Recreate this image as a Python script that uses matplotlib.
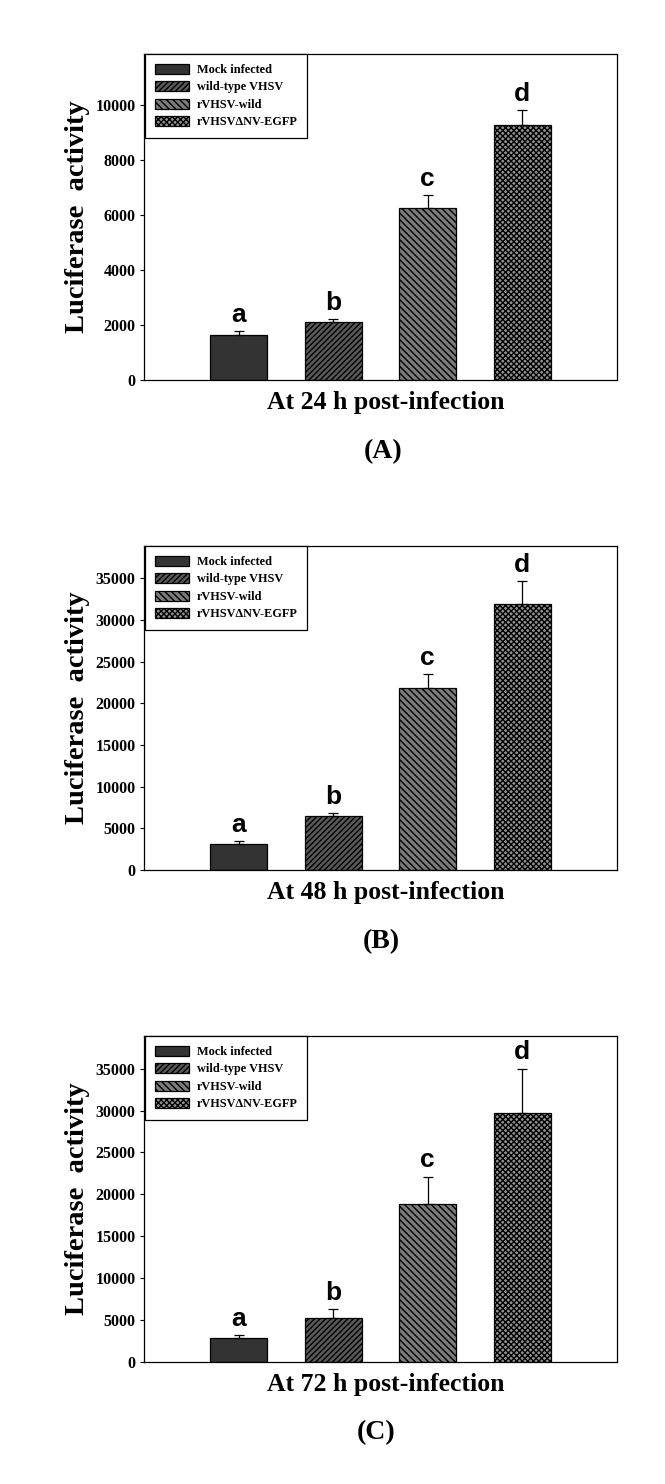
import matplotlib
matplotlib.use('Agg')
import matplotlib.pyplot as plt
import numpy as np

# groups shown in every panel
groups = ['Mock infected', 'wild-type VHSV', 'rVHSV-wild', 'rVHSV\u0394NV-EGFP']
sig_letters = ['a', 'b', 'c', 'd']

# luciferase activity (mean) and upper error (SD)
mean_24h = [1650, 2110, 6250, 9270]
err_24h = [120, 110, 470, 550]
mean_48h = [3120, 6440, 21800, 31880]
err_48h = [320, 360, 1680, 2760]
mean_72h = [2830, 5220, 18900, 29750]
err_72h = [360, 1120, 3230, 5260]

panels = [
    ('At 24 h post-infection', '(A)', mean_24h, err_24h, 11870, [0, 2000, 4000, 6000, 8000, 10000]),
    ('At 48 h post-infection', '(B)', mean_48h, err_48h, 38900, [0, 5000, 10000, 15000, 20000, 25000, 30000, 35000]),
    ('At 72 h post-infection', '(C)', mean_72h, err_72h, 38900, [0, 5000, 10000, 15000, 20000, 25000, 30000, 35000]),
]

plt.rcParams['hatch.linewidth'] = 1.0
plt.rcParams['hatch.color'] = 'black'
serif = 'Liberation Serif'

face_colors = ['#333333', '#5a5a5a', '#7c7c7c', '#939393']
hatches = [None, '//////', '\\\\\\\\\\', 'xxxxxx']

W, H = 665, 1484
fig = plt.figure(figsize=(W / 100, H / 100), dpi=100)

# axes boxes in pixels: (top, bottom)
boxes = [(54, 380), (546, 870), (1036, 1362)]
left_px, right_px = 144, 617
xlabel_y = [403, 893, 1385]
xlabel_x = 386
letter_y = [452, 942, 1433]
letter_x = [383, 381, 376]

x = np.arange(len(groups))
for (xlab, plabel, means, errs, ymax, yticks), (top, bot), xly, ply, plx in zip(panels, boxes, xlabel_y, letter_y, letter_x):
    ax = fig.add_axes([left_px / W, 1 - bot / H, (right_px - left_px) / W, (bot - top) / H])
    for i in range(len(groups)):
        ax.bar(x[i], means[i], width=0.6, color=face_colors[i], edgecolor='black',
               linewidth=0.9, hatch=hatches[i], label=groups[i], zorder=2)
    ax.errorbar(x, means, yerr=[np.zeros(len(means)), errs], fmt='none', ecolor='black',
                elinewidth=0.9, capsize=3.5, capthick=0.9, zorder=3)
    for i in range(len(groups)):
        ax.annotate(sig_letters[i], (x[i], means[i] + errs[i]), xytext=(0, 3),
                    textcoords='offset points', ha='center', va='bottom',
                    fontsize=19, fontweight='bold', family='Liberation Sans')
    ax.set_xlim(-1, 4)
    ax.set_ylim(0, ymax)
    ax.set_yticks(yticks)
    ax.set_xticks([])
    ax.tick_params(axis='y', direction='out', length=3, width=0.8, pad=3)
    for lab in ax.get_yticklabels():
        lab.set_fontfamily(serif)
        lab.set_fontweight('bold')
        lab.set_fontsize(11.5)
    for sp in ax.spines.values():
        sp.set_linewidth(0.9)
    ax.set_ylabel('Luciferase  activity', fontsize=20.5, fontweight='bold', family=serif)
    ax.yaxis.set_label_coords(-0.115, 0.5)
    leg = ax.legend(loc='upper left', bbox_to_anchor=(0.003, 1.0), borderaxespad=0,
                    prop={'family': serif, 'weight': 'bold', 'size': 8.8},
                    fancybox=False, edgecolor='black', framealpha=1,
                    handlelength=2.8, handleheight=0.9, labelspacing=0.42,
                    borderpad=0.8, handletextpad=0.6)
    leg.get_frame().set_linewidth(0.9)
    fig.text(xlabel_x / W, 1 - xly / H, xlab, ha='center', va='center',
             fontsize=18.5, fontweight='bold', family=serif)
    fig.text(plx / W, 1 - ply / H, plabel, ha='center', va='center',
             fontsize=20, fontweight='bold', family=serif)

fig.savefig('out.png', dpi=100)
